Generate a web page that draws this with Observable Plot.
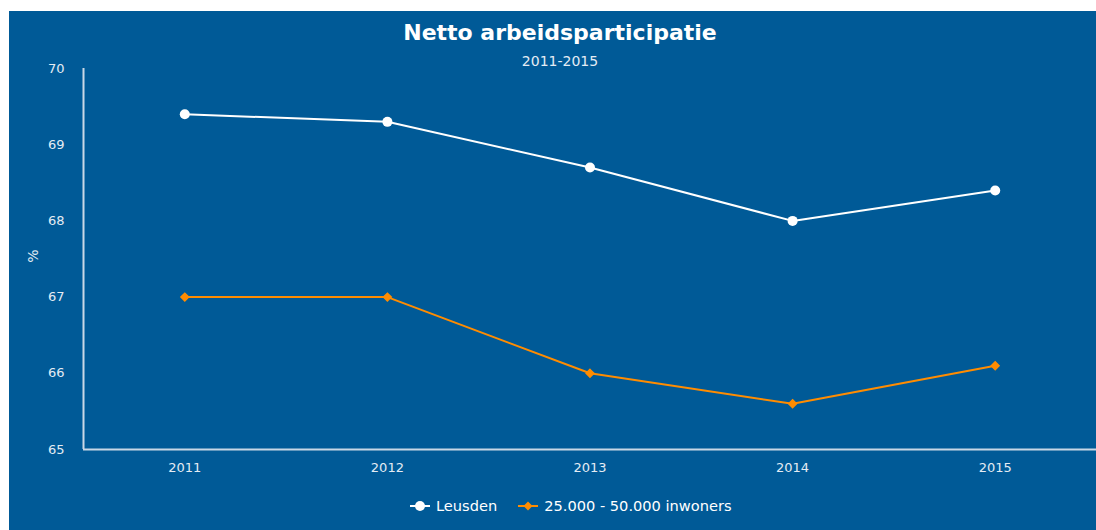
<!DOCTYPE html>
<html><head><meta charset="utf-8">
<script src="https://cdn.jsdelivr.net/npm/d3@7"></script>
<script src="https://cdn.jsdelivr.net/npm/@observablehq/plot@0.6"></script>
<style>
body{margin:0;background:#fff;font-family:"DejaVu Sans",sans-serif;width:1096px;height:530px;overflow:hidden;position:relative;}
#panel{position:absolute;left:9px;top:11px;width:1087px;height:519px;background:#005a97;}
#chart{position:absolute;left:0;top:0;}
.t{position:absolute;left:0;width:1120px;text-align:center;color:#fff;white-space:nowrap;}
#title{top:19px;font-size:22px;font-weight:bold;line-height:28px;}
#sub{top:52px;font-size:14px;line-height:18px;color:#e4ecf4;}
#ylab{position:absolute;left:26px;top:248px;color:#e4ecf4;font-size:14px;transform:rotate(-90deg);transform-origin:center;}
#legend{position:absolute;left:410px;top:497px;display:flex;align-items:center;font-size:14.6px;color:#fff;white-space:nowrap;}
#legend .item{display:flex;align-items:center;margin-right:21px;}
#legend svg{margin-right:6px;}
</style>
</head><body>
<div id="panel"></div>
<div id="chart"></div>
<div class="t" id="title">Netto arbeidsparticipatie</div>
<div class="t" id="sub">2011-2015</div>
<div id="ylab">%</div>
<div id="legend"></div>
<script>
const years = [2011, 2012, 2013, 2014, 2015];
const leusden = [69.4, 69.3, 68.7, 68.0, 68.4];
const inwoners = [67.0, 67.0, 66.0, 65.6, 66.1];
const seriesNames = ["Leusden", "25.000 - 50.000 inwoners"];
const yTicks = [65, 66, 67, 68, 69, 70];

const white = "#ffffff";
const orange = "#ff8c00";
const axisColor = "#c9d7e6";

const dataA = years.map((y, i) => ({year: y, value: leusden[i], series: seriesNames[0]}));
const dataB = years.map((y, i) => ({year: y, value: inwoners[i], series: seriesNames[1]}));

const plot = Plot.plot({
  width: 1096,
  height: 530,
  marginLeft: 83,
  marginRight: 0,
  marginTop: 68,
  marginBottom: 81,
  style: {background: "transparent", color: "#e4ecf4", fontFamily: "DejaVu Sans, sans-serif", fontSize: "13px", overflow: "visible"},
  x: {domain: [2010.5, 2015.5]},
  y: {domain: [65, 70]},
  marks: [
    Plot.axisX({ticks: years, tickFormat: "d", tickSize: 0, tickPadding: 13, label: null, fontSize: 13}),
    Plot.axisY({ticks: yTicks, tickFormat: "d", tickSize: 0, tickPadding: 19, label: null, fontSize: 13}),
    Plot.ruleX([2010.5], {stroke: axisColor, strokeWidth: 2}),
    Plot.ruleY([65], {stroke: axisColor, strokeWidth: 2}),
    Plot.line(dataB, {x: "year", y: "value", stroke: orange, strokeWidth: 2}),
    Plot.dot(dataB, {x: "year", y: "value", symbol: "diamond2", fill: orange, stroke: orange, r: 3.5}),
    Plot.line(dataA, {x: "year", y: "value", stroke: white, strokeWidth: 2}),
    Plot.dot(dataA, {x: "year", y: "value", fill: white, r: 5})
  ]
});
document.getElementById("chart").appendChild(plot);

const legend = document.getElementById("legend");
const swatch = [
  `<svg width="20" height="12"><line x1="0" x2="20" y1="6" y2="6" stroke="${white}" stroke-width="2"/><circle cx="10" cy="6" r="5" fill="${white}"/></svg>`,
  `<svg width="20" height="12"><line x1="0" x2="20" y1="6" y2="6" stroke="${orange}" stroke-width="2"/><path d="M10,1.5L14.5,6L10,10.5L5.5,6Z" fill="${orange}"/></svg>`
];
seriesNames.forEach((name, i) => {
  const d = document.createElement("div");
  d.className = "item";
  d.innerHTML = swatch[i] + `<span>${name}</span>`;
  legend.appendChild(d);
});
</script>
</body></html>
